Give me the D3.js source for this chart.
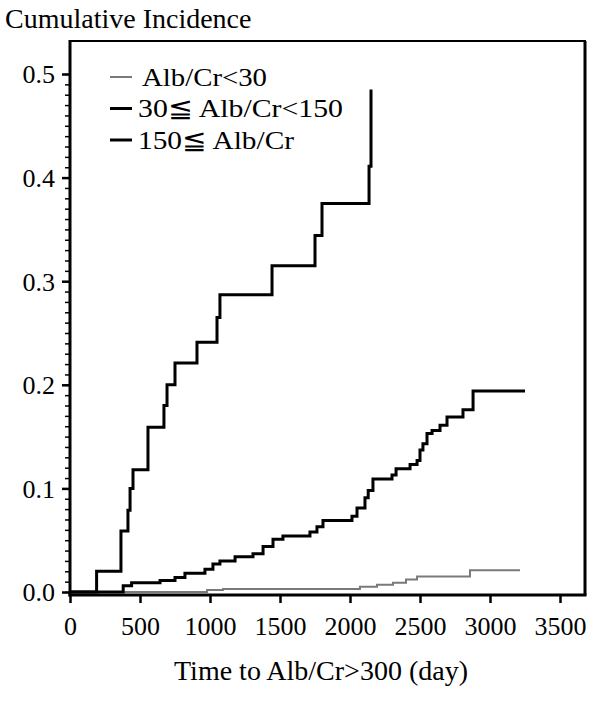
<!DOCTYPE html>
<html>
<head>
<meta charset="utf-8">
<script src="https://cdn.jsdelivr.net/npm/d3@7"></script>
<style>
  body { margin: 0; background: #fff; }
  text { font-family: "Liberation Serif", "DejaVu Serif", serif; fill: #000; }
</style>
</head>
<body>
<div id="chart"></div>
<script>
// Cumulative incidence step curves (day, value)
const lowDays    = [0, 979, 1093, 2071, 2193, 2307, 2400, 2479, 2857, 3214];
const lowVals    = [0, 0.002, 0.003, 0.005, 0.007, 0.009, 0.012, 0.015, 0.021, 0.021];

const midDays = [0, 380, 440, 643, 750, 821, 964, 1021, 1071, 1179, 1307, 1379, 1450, 1521, 1714, 1764, 1807,
                 2014, 2050, 2107, 2130, 2164, 2300, 2329, 2429, 2479, 2500, 2521, 2550, 2586, 2643, 2693, 2700,
                 2807, 2879, 3250];
const midVals = [0, 0.006, 0.009, 0.011, 0.014, 0.018, 0.022, 0.027, 0.030, 0.034, 0.037, 0.044, 0.051, 0.054, 0.058, 0.063, 0.069,
                 0.073, 0.081, 0.091, 0.098, 0.109, 0.113, 0.119, 0.123, 0.127, 0.137, 0.143, 0.153, 0.156, 0.161, 0.169, 0.169,
                 0.176, 0.194, 0.194];

const highDays = [0, 190, 364, 414, 429, 450, 557, 671, 693, 750, 907, 1050, 1071, 1443, 1750, 1800, 2136, 2150];
const highVals = [0, 0.020, 0.059, 0.079, 0.100, 0.118, 0.159, 0.180, 0.200, 0.221, 0.241, 0.265, 0.287, 0.315, 0.344, 0.375, 0.411, 0.485];

const seriesNames = ["Alb/Cr<30", "30\u2266 Alb/Cr<150", "150\u2266 Alb/Cr"];
const xTicks = [0, 500, 1000, 1500, 2000, 2500, 3000, 3500];
const yTicks = [0, 0.1, 0.2, 0.3, 0.4, 0.5];

const W = 590, H = 701;
const svg = d3.select("#chart").append("svg")
    .attr("width", W).attr("height", H);

const x = d3.scaleLinear().domain([0, 3500]).range([70, 560]);
const y = d3.scaleLinear().domain([0, 0.5]).range([592, 74]);

// marc
const frameL = 70, frameR = 585, frameT = 41, frameB = 595;
svg.append("line").attr("x1", frameL).attr("x2", frameR + 1).attr("y1", frameT).attr("y2", frameT)
    .attr("stroke", "#000").attr("stroke-width", 2);
svg.append("line").attr("x1", frameR).attr("x2", frameR).attr("y1", frameT).attr("y2", frameB)
    .attr("stroke", "#000").attr("stroke-width", 3);

// eixos
const yAxis = d3.axisLeft(y).tickValues(yTicks).tickFormat(d3.format(".1f")).tickSize(8).tickPadding(7);
const yMinor = d3.axisLeft(y).tickValues(d3.range(0, 0.5001, 0.01)).tickFormat("").tickSize(5);

const gyMinor = svg.append("g").attr("transform", `translate(${frameL},0)`).call(yMinor);
gyMinor.select(".domain").remove();
gyMinor.selectAll("line").attr("stroke-width", 1.5);

const gy = svg.append("g").attr("transform", `translate(${frameL},0)`).call(yAxis);
gy.select(".domain").remove();
gy.selectAll("line").attr("stroke-width", 2.5);
gy.selectAll("text").style("font-size", "26px").attr("dy", "0.34em");

svg.append("line").attr("x1", frameL).attr("x2", frameL).attr("y1", frameT - 1).attr("y2", frameB + 1.5)
    .attr("stroke", "#000").attr("stroke-width", 3);

const xAxis = d3.axisBottom(x).tickValues(xTicks).tickFormat(d3.format("d")).tickSize(8).tickPadding(14);
const gx = svg.append("g").attr("transform", `translate(0,${frameB})`).call(xAxis);
gx.select(".domain").remove();
gx.selectAll("line").attr("stroke-width", 2.5);
gx.selectAll("text").style("font-size", "26px");

svg.append("line").attr("x1", frameL - 1.5).attr("x2", frameR + 1.5).attr("y1", frameB).attr("y2", frameB)
    .attr("stroke", "#000").attr("stroke-width", 3);

// corbes
const line = d3.line().x(d => x(d[0])).y(d => y(d[1])).curve(d3.curveStepAfter);
const series = [
    { days: lowDays,  vals: lowVals,  color: "#7a7a7a", width: 2 },
    { days: midDays,  vals: midVals,  color: "#000",    width: 3 },
    { days: highDays, vals: highVals, color: "#000",    width: 3 }
];
series.forEach(s => {
    svg.append("path")
        .datum(s.days.map((d, i) => [d, s.vals[i]]))
        .attr("d", line)
        .attr("fill", "none")
        .attr("stroke", s.color)
        .attr("stroke-width", s.width);
});

// llegenda
const legendX = [142, 138, 138];
const legendLen = [125, 205, 156];
const legend = svg.append("g").attr("transform", "translate(0,77)");
series.forEach((s, i) => {
    const g = legend.append("g").attr("transform", `translate(0,${i * 31.5})`);
    g.append("line").attr("x1", 110).attr("x2", 132).attr("y1", 0).attr("y2", 0)
        .attr("stroke", s.color).attr("stroke-width", s.width);
    g.append("text").attr("x", legendX[i]).attr("y", 0).attr("dy", "0.34em")
        .attr("textLength", legendLen[i]).attr("lengthAdjust", "spacingAndGlyphs")
        .style("font-size", "26px").text(seriesNames[i]);
});

// títols
svg.append("text").attr("x", 5).attr("y", 28).style("font-size", "28px").text("Cumulative Incidence");
svg.append("text").attr("x", 321).attr("y", 680).attr("text-anchor", "middle")
    .style("font-size", "28px").text("Time to Alb/Cr>300 (day)");
</script>
</body>
</html>
